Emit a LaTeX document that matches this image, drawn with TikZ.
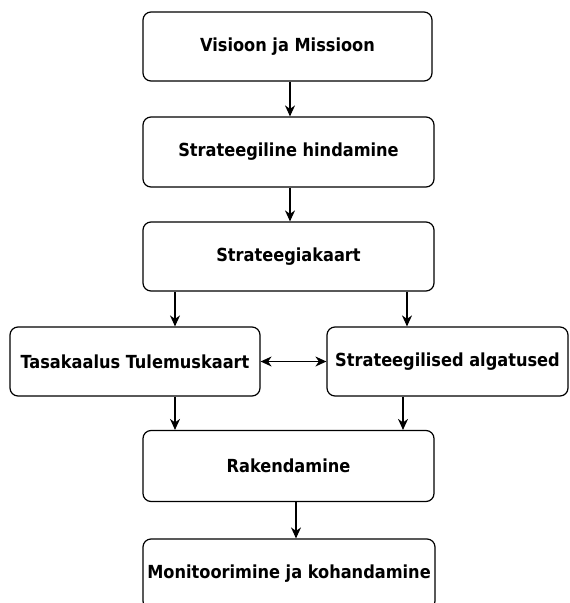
\documentclass[tikz,border=0pt]{standalone}
\usepackage{fontspec}
\setmainfont{DejaVu Sans Condensed}
\usetikzlibrary{arrows.meta}
\begin{document}
\begin{tikzpicture}[x=1pt,y=-1pt,
  stagebox/.style={draw=black, line width=1.2pt, rounded corners=8pt, fill=white,
    inner sep=0pt, font=\fontsize{18}{21}\selectfont\bfseries},
  flow/.style={line width=1.2pt, -{Stealth[length=11pt,width=10pt,inset=3.5pt]}},
  both/.style={line width=1.2pt, {Stealth[length=11pt,width=10pt,inset=3.5pt]}-{Stealth[length=11pt,width=10pt,inset=3.5pt]}}]
  \useasboundingbox (0,0) rectangle (570,603);
  \clip (0,0) rectangle (570,603);

  % process stages
  \node[stagebox, minimum width=289pt, minimum height=69pt] (vis) at (287.5,46.5) {Visioon ja Missioon};
  \node[stagebox, minimum width=291pt, minimum height=70pt] (hin) at (288.5,152) {Strateegiline hindamine};
  \node[stagebox, minimum width=291pt, minimum height=69pt] (kaart) at (288.5,256.5) {Strateegiakaart};
  \node[stagebox, minimum width=250pt, minimum height=69pt] (tul) at (135,361.5) {Tasakaalus Tulemuskaart};
  \node[stagebox, minimum width=241pt, minimum height=69pt] (alg) at (447.5,361.5) {Strateegilised algatused};
  \node[stagebox, minimum width=291pt, minimum height=71pt] (rak) at (288.5,466) {Rakendamine};
  \node[stagebox, minimum width=292pt, minimum height=70pt] (mon) at (289,574) {Monitoorimine ja kohandamine};

  % vertical guide positions for the connectors
  \coordinate (xa) at (290,0);
  \coordinate (xl) at (175,0);
  \coordinate (xr) at (407,0);
  \coordinate (xr2) at (403,0);
  \coordinate (xb) at (296,0);

  % connectors
  \draw[flow] (vis.south -| xa) -- (hin.north -| xa);
  \draw[flow] (hin.south -| xa) -- (kaart.north -| xa);
  \draw[flow] (kaart.south -| xl) -- (tul.north -| xl);
  \draw[flow] (kaart.south -| xr) -- (alg.north -| xr);
  \draw[both] (tul.east) -- (alg.west);
  \draw[flow] (tul.south -| xl) -- (rak.north -| xl);
  \draw[flow] (alg.south -| xr2) -- (rak.north -| xr2);
  \draw[flow] (rak.south -| xb) -- (mon.north -| xb);
\end{tikzpicture}
\end{document}
